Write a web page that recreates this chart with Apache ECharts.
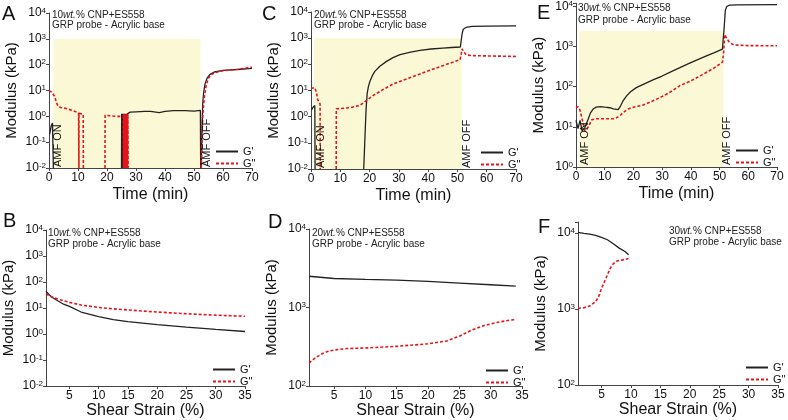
<!DOCTYPE html>
<html><head><meta charset="utf-8">
<script src="https://cdn.jsdelivr.net/npm/echarts@6/dist/echarts.min.js"></script>
<style>html,body{margin:0;padding:0;background:#fff}#c{width:788px;height:420px}</style>
</head><body><div id="c"></div><script>
// ---------- DATA ----------
// Panel A: 10 wt.% time sweep
const aGp = [[0.2,0.2],[0.5,0.3],[0.8,0.45],[1.2,0.55],[1.4,0.5],[1.5,0.01],[1.55,'-'],
  [25.0,0.01],[25.05,1.25],[25.15,0.01],[25.25,1.25],[25.35,0.01],[25.45,1.25],[25.55,0.01],[25.65,1.25],[25.75,0.01],[25.85,1.25],[25.95,0.01],[26.05,1.25],[26.15,0.01],[26.25,1.25],[26.35,0.01],[26.45,1.25],[26.55,0.01],[26.65,1.25],[26.75,0.01],[26.85,1.25],[26.95,0.01],[27.05,1.25],
  [27.3,1.3],[28,1.45],[30,1.5],[33,1.55],[35,1.55],[38,1.4],[40,1.55],[43,1.65],[47,1.65],[50,1.6],[52.2,1.7],[52.3,0.01],[52.4,'-'],
  [52.5,0.01],[52.8,0.5],[53.0,3],[53.3,8],[53.8,18],[54.5,30],[55.5,42],[57,52],[60,60],[65,65],[70,72]];
const aGpp = [[0,9.5],[0.8,9],[1.5,7],[2,5.8],[2.5,3.5],[3.1,2.5],[4,2.2],[6,2.0],[8,1.7],[10.2,1.35],[10.3,1.3],[10.32,0.01],[10.34,1.3],[11,1.25],[11.8,1.2],[11.85,0.01],[11.9,'-'],
  [19.3,0.01],[19.35,1.1],[21,1.05],[23,1.0],[25.6,1.0],
  [25.7,0.01],[25.8,1.2],[25.9,0.01],[26.0,1.2],[26.1,0.01],[26.2,1.2],[26.3,0.01],[26.4,1.2],[26.5,0.01],[26.6,1.2],[26.7,0.01],[26.8,1.2],[26.9,0.01],[27.0,1.2],[27.1,0.01],[27.2,1.2],[27.3,0.01],[27.35,'-'],
  [52.5,0.01],[52.9,0.5],[53.2,2],[53.6,6],[54.2,16],[55,30],[56,42],[58,52],[60,58],[65,66],[70,80]];
// Panel C: 20 wt.% time sweep
const cGp = [[0.2,1.8],[0.6,2.2],[1.0,2.5],[1.3,2.7],[1.4,0.01],[1.5,'-'],
  [18.0,0.01],[18.4,0.14],[18.8,1.9],[19.2,8],[19.6,14],[20.1,22],[21,38],[21.8,54],[23.5,85],[25.8,130],[28,180],[30.4,234],[34,290],[37.2,340],[41,385],[45,420],[48,440],[51,460],[51.3,480],[51.6,1500],[52,2200],[53,2600],[55,2800],[60,2900],[70,2950]];
const cGpp = [[0,12],[0.6,14],[1.2,13],[1.8,9],[2.3,4.5],[3.1,3],[3.15,0.01],[3.2,'-'],
  [8.6,0.01],[8.65,2.0],[10,2.05],[13.3,2.2],[16.7,2.7],[19,4.2],[21.3,6.5],[24.7,11],[28.1,18],[32.7,28],[37.2,43],[41.8,66],[46.3,100],[50.9,150],[51.3,250],[51.6,390],[52.2,300],[53,230],[55,215],[60,210],[70,200]];
// Panel E: 30 wt.% time sweep
const eGp = [[0,14.5],[0.7,9],[1.4,14.5],[2.1,8],[3.1,9.6],[4.3,16],[5,22],[6,28],[7,31],[8.4,32],[10,31],[11.8,30],[13,28],[14.7,27],[15.5,33],[16.5,46],[17.7,60],[19,75],[21,95],[24,120],[27,150],[30,185],[33,235],[36,295],[39,370],[42,460],[45,570],[48,700],[51,870],[51.3,900],[51.6,3000],[52,8000],[52.5,10000],[53.5,10800],[56,11000],[70,11200]];
const eGpp = [[0,30],[0.7,32],[1.4,26],[2.3,14],[3.1,8],[3.6,8.5],[4.3,10],[5.5,15],[7.2,16],[10,16],[13.6,16],[15.3,19],[16.5,23],[18.2,28],[20,31],[23.4,35],[26,42],[30,57],[33,75],[36.2,107],[40,140],[44,200],[48,290],[51,410],[51.4,700],[51.8,2000],[52.5,1600],[53.5,1250],[55,1100],[60,1060],[70,1050]];
// Panel B: 10 wt.% strain sweep
const bGp = [[1,44],[1.5,33],[2,26],[3,19],[4,14],[5,11.5],[7,7],[10,4.7],[12.5,3.6],[15,3.0],[20,2.3],[25,1.85],[30,1.5],[35,1.25]];
const bGpp = [[1,35],[1.5,30],[2,27],[3,22],[4,19],[5,16.5],[7,13],[10,10.5],[12.5,9.3],[15,8.4],[20,7],[25,6],[30,5.3],[35,4.8]];
// Panel D: 20 wt.% strain sweep
const dGp = [[1,2500],[5,2340],[10,2280],[15,2230],[20,2150],[25,2050],[30,1950],[34,1870]];
const dGpp = [[1,196],[2,228],[3,255],[4,276],[5,287],[7,300],[10,305],[15,320],[20,345],[23,375],[25,430],[27,517],[29,590],[31,645],[33,690],[34,700]];
// Panel F: 30 wt.% strain sweep
const fGp = [[1,10200],[2,9900],[3,9700],[4,9300],[5,8770],[6,8170],[7,7230],[8,6340],[9,5730],[9.6,5200]];
const fGpp = [[1,1020],[2,1040],[3,1100],[4,1250],[4.5,1450],[5,1870],[5.5,2290],[6,2820],[6.5,3470],[7,3950],[7.5,4250],[8,4350],[9,4500],[9.6,4620]];
// Labels / ticks
const strainTicks = [5,10,15,20,25,30,35];
const seriesNames = ["G'", 'G"'];
const panelLetters = ['A','C','E','B','D','F'];
const loadings = ['10','20','30','10','20','30'];
const amfWindows = [[1.5,52.3,1000],[1.0,51.5,1000],[1.1,51.4,2500]];

// ---------- CHART ----------
const FONT = '"Liberation Sans", Arial, sans-serif';
const chart = echarts.init(document.getElementById('c'));
const grids = [
  {left:49, top:13, width:203, height:155},
  {left:311, top:12, width:205, height:157},
  {left:576, top:2.8, width:201, height:164.2},
  {left:45, top:230, width:200, height:156},
  {left:309, top:229, width:213, height:159},
  {left:578, top:222, width:200, height:163}
];
const yRanges = [[0.01,10000],[0.01,10000],[1,12000],[0.01,10000],[100,10000],[100,14000]];
const AX = '#444', TX = '#111';
function yAx(i){
  return {type:'log', logBase:10, gridIndex:i, min:yRanges[i][0], max:yRanges[i][1],
    name:'Modulus (kPa)', nameLocation:'middle', nameGap:30,
    nameTextStyle:{fontFamily:FONT, fontSize:15, color:TX},
    axisLine:{show:true, lineStyle:{color:AX}}, axisTick:{show:true, length:3, lineStyle:{color:AX}},
    splitLine:{show:false},
    axisLabel:{fontFamily:FONT, fontSize:12, color:TX, margin:3,
      formatter:v=>{const e=Math.log10(v); if(Math.abs(e-Math.round(e))>1e-6) return ''; return '10{s|'+Math.round(e)+'}';},
      rich:{s:{fontSize:8, fontFamily:FONT, color:TX, verticalAlign:'top', padding:[0,0,5,0]}}}};
}
function xAx(i){
  const time = i < 3;
  const o = {type:'value', gridIndex:i, name: time?'Time (min)':'Shear Strain (%)', nameLocation:'middle', nameGap: time?19:17,
    nameTextStyle:{fontFamily:FONT, fontSize:16, color:TX},
    axisLine:{show:true, lineStyle:{color:AX}}, axisTick:{show:true, length:3, lineStyle:{color:AX}},
    splitLine:{show:false},
    axisLabel:{fontFamily:FONT, fontSize:12, color:TX, margin:4}};
  if (time){ o.min=0; o.max=70; o.interval=10; }
  else { o.min=1; o.max=35; o.axisLabel.customValues=strainTicks; o.axisTick.customValues=strainTicks; }
  return o;
}
const RED = '#e5141b', BLK = '#222';
function ser(idx, gi, data){
  const red = idx===1;
  return {type:'line', name:seriesNames[idx], xAxisIndex:gi, yAxisIndex:gi, data, symbol:'none', showSymbol:false,
    connectNulls:false, animation:false, z: red?4:3,
    lineStyle: red?{color:RED, width:1.6, type:[3,2]}:{color:BLK, width:1.3},
    itemStyle:{color: red?RED:BLK}};
}
const pairs = [[aGp,aGpp],[cGp,cGpp],[eGp,eGpp],[bGp,bGpp],[dGp,dGpp],[fGp,fGpp]];
const series = [];
amfWindows.forEach((w,gi)=>{
  series.push({type:'line', xAxisIndex:gi, yAxisIndex:gi, data:[], silent:true, z:1, animation:false,
    markArea:{silent:true, itemStyle:{color:'#fbf9d5'}, data:[[{coord:[w[0], yRanges[gi][0]]},{coord:[w[1], w[2]]}]]}});
});
pairs.forEach((p,gi)=>{ series.push(ser(0,gi,p[0])); series.push(ser(1,gi,p[1])); });

const legPos = [[215,146],[480,147],[735,145],[212,364],[485,365],[745,362]];
const legend = legPos.map(p=>({left:p[0], top:p[1], orient:'vertical', itemGap:1, itemWidth:22, itemHeight:10, padding:0,
  selectedMode:false, data:seriesNames, itemStyle:{color:'rgba(0,0,0,0)', borderColor:'rgba(0,0,0,0)', borderWidth:0, opacity:0},
  textStyle:{fontFamily:FONT, fontSize:11, color:TX}}));

const notePos = [[52,15],[314,15],[578,8],[48,233],[312,233],[669,231]];
const noteGap = [10,10,12,11,11,11];
const graphic = [];
notePos.forEach((p,i)=>{
  graphic.push({type:'text', x:p[0], y:p[1], silent:true, style:{text:loadings[i]+'{i|wt.}% CNP+ES558', font:'10px '+FONT, fill:'#222', verticalAlign:'middle',
    rich:{i:{fontStyle:'italic', fontSize:10, fontFamily:FONT, fill:'#222'}}}});
  graphic.push({type:'text', x:p[0], y:p[1]+noteGap[i], silent:true, style:{text:'GRP probe - Acrylic base', font:'10px '+FONT, fill:'#222', verticalAlign:'middle'}});
});
const letterPos = [[2,4],[262,4],[537,3],[3,211],[268,212],[538,217]];
letterPos.forEach((p,i)=>{
  graphic.push({type:'text', x:p[0], y:p[1], silent:true, style:{text:panelLetters[i], font:'20px '+FONT, fill:'#111', verticalAlign:'top'}});
});
const amfLabels = [[58,167,'AMF ON'],[207,167,'AMF OFF'],[321,168,'AMF ON'],[467,168,'AMF OFF'],[585,165,'AMF ON'],[727,165,'AMF OFF']];
amfLabels.forEach(a=>{
  graphic.push({type:'text', x:a[0], y:a[1], rotation:Math.PI/2, silent:true, z:10,
    style:{text:a[2], font:'11px '+FONT, fill:'#111', align:'left', verticalAlign:'middle'}});
});

chart.setOption({
  animation:false,
  backgroundColor:'#fff',
  grid: grids,
  xAxis: grids.map((g,i)=>xAx(i)),
  yAxis: grids.map((g,i)=>yAx(i)),
  legend, series, graphic
});
</script></body></html>
